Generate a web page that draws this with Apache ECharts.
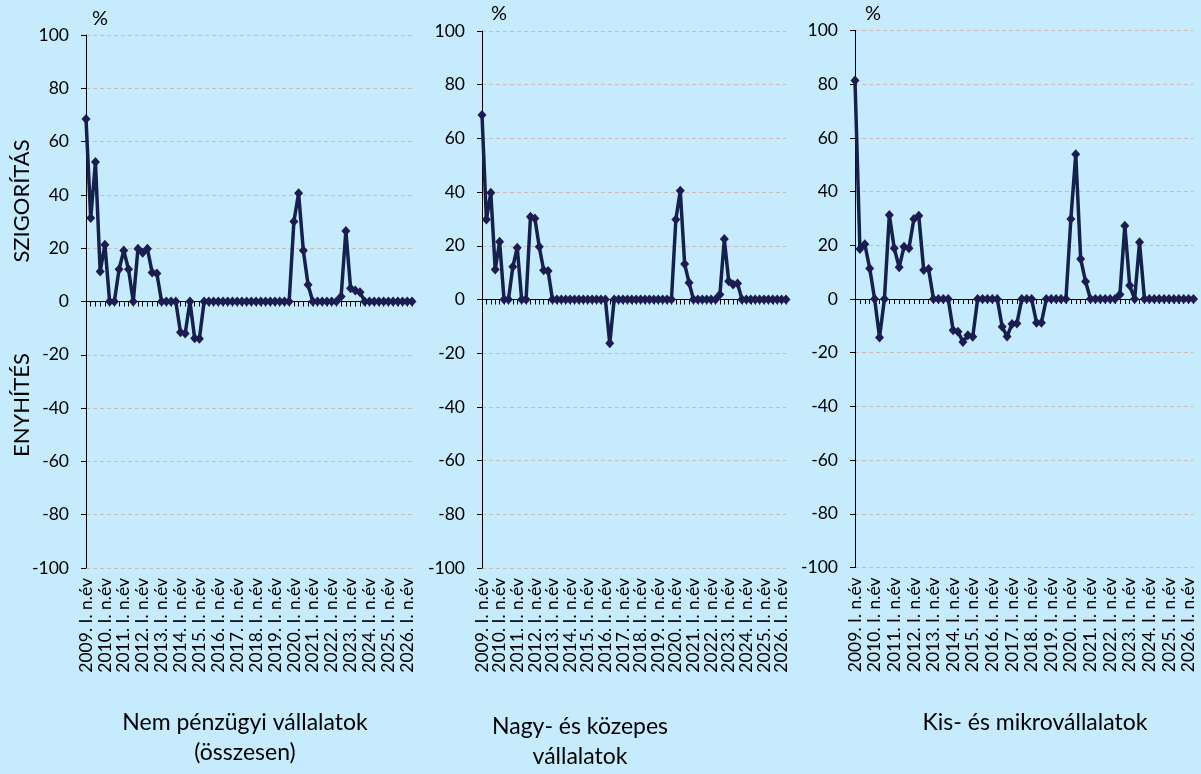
<!DOCTYPE html>
<html>
<head>
<meta charset="utf-8">
<script src="https://cdn.jsdelivr.net/npm/echarts@6/dist/echarts.min.js"></script>
<style>
html,body{margin:0;padding:0;background:#c6ebfc;}
#chart{width:1201px;height:774px;}
</style>
</head>
<body>
<div id="chart"></div>
<script>
// ---- data ----
const years = [2009,2010,2011,2012,2013,2014,2015,2016,2017,2018,2019,2020,2021,2022,2023,2024,2025,2026];
const quarters = ['I.','II.','III.','IV.'];
const nQuarters = 70; // 2009 Q1 .. 2026 Q2

const nonFinancial = [
  68.5, 31.3, 52.3, 11.3, 21.3, 0, 0, 12.1, 19.1, 12.1,
  0, 19.8, 18.3, 19.8, 10.9, 10.5, 0, 0, 0, 0,
  -11.5, -12, 0, -13.8, -14, 0, 0, 0, 0, 0,
  0, 0, 0, 0, 0, 0, 0, 0, 0, 0,
  0, 0, 0, 0, 30, 40.6, 19.1, 6.3, 0, 0,
  0, 0, 0, 0, 1.9, 26.5, 5, 4.1, 3.5, 0,
  0, 0, 0, 0, 0, 0, 0, 0, 0, 0
];
const largeMedium = [
  68.7, 29.8, 39.8, 11.2, 21.5, 0, 0, 12.2, 19.3, 0,
  0, 30.8, 30.2, 19.6, 10.9, 10.6, 0, 0, 0, 0,
  0, 0, 0, 0, 0, 0, 0, 0, 0, -16.3,
  0, 0, 0, 0, 0, 0, 0, 0, 0, 0,
  0, 0, 0, 0, 29.8, 40.5, 13.2, 6.2, 0, 0,
  0, 0, 0, 0, 1.9, 22.5, 6.8, 5.6, 6, 0,
  0, 0, 0, 0, 0, 0, 0, 0, 0, 0
];
const smallMicro = [
  81.4, 18.6, 20.4, 11.4, 0, -14.3, 0, 31.3, 18.9, 11.8,
  19.5, 18.9, 29.8, 31, 10.8, 11.2, 0, 0, 0, 0,
  -11.6, -12.2, -16, -13.5, -14.1, 0, 0, 0, 0, 0,
  -10.3, -14, -9.3, -9.1, 0, 0, 0, -8.8, -8.8, 0,
  0, 0, 0, 0, 29.8, 53.9, 14.9, 6.5, 0, 0,
  0, 0, 0, 0, 1.7, 27.3, 5, 0, 21.1, 0,
  0, 0, 0, 0, 0, 0, 0, 0, 0, 0
];
const panelTitles = ['Nem pénzügyi vállalatok\n(összesen)', 'Nagy- és közepes\nvállalatok', 'Kis- és mikrovállalatok'];
const yTicks = {min: -100, max: 100, interval: 20};

// build category labels
const categories = [];
for (let i = 0; i < nQuarters; i++) {
  const y = years[Math.floor(i / 4)];
  categories.push(y + '. ' + quarters[i % 4] + ' n.év');
}

const FONT = 'Lato';
const grids = [
  {left: 86, top: 35, width: 326, height: 533},
  {left: 482, top: 31, width: 304, height: 537},
  {left: 855, top: 30.5, width: 338.5, height: 537}
];
const seriesData = [nonFinancial, largeMedium, smallMicro];

const xAxes = [], yAxes = [], series = [];
grids.forEach((g, k) => {
  xAxes.push({
    gridIndex: k, type: 'category', data: categories, boundaryGap: false, position: 'bottom',
    axisLine: {show: false, onZero: false}, axisTick: {show: false},
    axisLabel: {
      interval: 0, rotate: 90, margin: 10, fontFamily: FONT, fontSize: 17.5, color: '#000',
      showMinLabel: true, showMaxLabel: true, hideOverlap: false,
      formatter: (v, i) => (i % 4 === 0 ? v : '')
    },
    splitLine: {show: false}
  });
  xAxes.push({
    gridIndex: k, type: 'category', data: categories, boundaryGap: false, position: 'bottom',
    axisLine: {show: true, onZero: true, lineStyle: {color: '#000', width: 1}},
    axisTick: {show: true, interval: 0, length: 5, lineStyle: {color: '#000'}},
    axisLabel: {show: false}, splitLine: {show: false}
  });
  yAxes.push({
    gridIndex: k, type: 'value', min: yTicks.min, max: yTicks.max, interval: yTicks.interval,
    axisLine: {show: true, lineStyle: {color: '#000', width: 1}},
    axisTick: {show: true, length: 5, lineStyle: {color: '#000'}},
    axisLabel: {margin: 17, fontFamily: FONT, fontSize: 17.5, color: '#000'},
    splitLine: {show: true, lineStyle: {type: [4, 3], color: '#cdbcb4', width: 1}}
  });
  series.push({
    type: 'line', xAxisIndex: 2 * k, yAxisIndex: k, data: seriesData[k],
    symbol: 'diamond', symbolSize: [9, 10], showSymbol: true, showAllSymbol: true,
    lineStyle: {color: '#13214b', width: 3.5},
    itemStyle: {color: '#1d1c50'},
    animation: false
  });
});

function txt(x, y, text, size, rot, extra) {
  const o = {type: 'text', x: x, y: y, style: Object.assign({text: text, font: size + 'px ' + FONT, fill: '#000', textAlign: 'center', textVerticalAlign: 'middle'}, extra || {})};
  if (rot) o.rotation = rot;
  return o;
}
const graphics = [
  txt(100, 19, '%', 20),
  txt(499, 14, '%', 20),
  txt(873, 14, '%', 20),
  txt(22, 201, 'SZIGORÍTÁS', 22, Math.PI / 2),
  txt(22, 405, 'ENYHÍTÉS', 22, Math.PI / 2),
  txt(245, 738, panelTitles[0], 23, 0, {lineHeight: 30}),
  txt(580, 742, panelTitles[1], 23, 0, {lineHeight: 30}),
  txt(1035, 723, panelTitles[2], 23, 0, {lineHeight: 30})
];

const chart = echarts.init(document.getElementById('chart'), null, {renderer: 'canvas'});
chart.setOption({
  backgroundColor: '#c6ebfc',
  animation: false,
  grid: grids,
  xAxis: xAxes,
  yAxis: yAxes,
  series: series,
  graphic: graphics
});
</script>
</body>
</html>
